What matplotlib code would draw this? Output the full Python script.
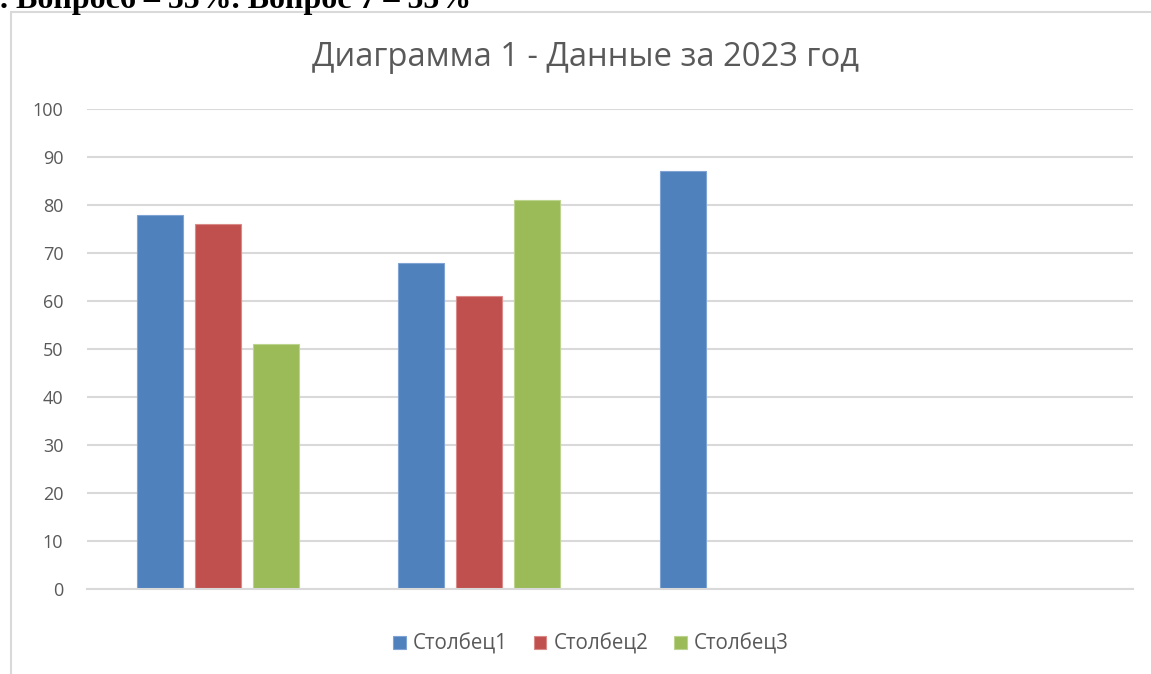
import numpy as np
import matplotlib
matplotlib.use('Agg')
from matplotlib import pyplot as plt
from matplotlib.patches import Rectangle

plt.rcParams['font.family'] = ['Open Sans', 'DejaVu Sans']

# data for the chart
categories = ['', '', '', '']
series_names = ['Столбец1', 'Столбец2', 'Столбец3']
col1 = [78, 68, 87, np.nan]
col2 = [76, 61, np.nan, np.nan]
col3 = [51, 81, np.nan, np.nan]
yticks = [0, 10, 20, 30, 40, 50, 60, 70, 80, 90, 100]

colors = ['#4F81BD', '#C0504D', '#9BBB59']
edges = ['#7FA3D3', '#DA8A88', '#BCD48E']
text_gray = '#595959'
grid_gray = '#D9D9D9'

fig = plt.figure(figsize=(11.51, 6.74), dpi=100)

# heading line from the document above the chart (cut off at the top)
fig.text(0.0, 1 - 8 / 674, '. Вопрос6 – 55%. Вопрос 7 – 55%',
         family='Liberation Serif', weight='bold', fontsize=23,
         ha='left', va='baseline', color='black')

# chart frame
fig.patches.append(Rectangle((11 / 1151, -0.1), 1.2, 1 - 12 / 674 + 0.1,
                             transform=fig.transFigure, fill=False,
                             edgecolor=grid_gray, linewidth=1.5))

ax = fig.add_axes([87 / 1151, 1 - 589 / 674, (1133 - 87) / 1151, (589 - 109) / 674])

x = np.arange(len(categories))
w = 0.176
off = 0.222
for i, vals in enumerate([col1, col2, col3]):
    ax.bar(x + (i - 1) * off, vals, width=w, color=colors[i],
           edgecolor=edges[i], linewidth=0.8, label=series_names[i], zorder=3)

ax.set_xlim(-0.5, len(categories) - 0.5)
ax.set_ylim(0, 100)
ax.set_yticks(yticks)
ax.set_xticks([])
ax.tick_params(axis='y', length=0, pad=17, labelsize=13, labelcolor=text_gray)
ax.grid(axis='y', color=grid_gray, linewidth=1.5, zorder=0)
for s in ['left', 'right', 'top']:
    ax.spines[s].set_visible(False)
ax.spines['bottom'].set_color(grid_gray)
ax.spines['bottom'].set_linewidth(1.5)
ax.spines['bottom'].set_zorder(4)

fig.text(585 / 1151, 1 - 57 / 674, 'Диаграмма 1 - Данные за 2023 год',
         ha='center', va='center', fontsize=23.6, color=text_gray)

ax.legend(loc='center', bbox_to_anchor=(591 / 1151, 1 - 644 / 674),
          bbox_transform=fig.transFigure, ncol=3, frameon=False,
          fontsize=14.8, labelcolor=text_gray, handlelength=0.62,
          handleheight=0.62, handletextpad=0.35, columnspacing=1.25)

fig.savefig('out.png', dpi=100, facecolor='white')
